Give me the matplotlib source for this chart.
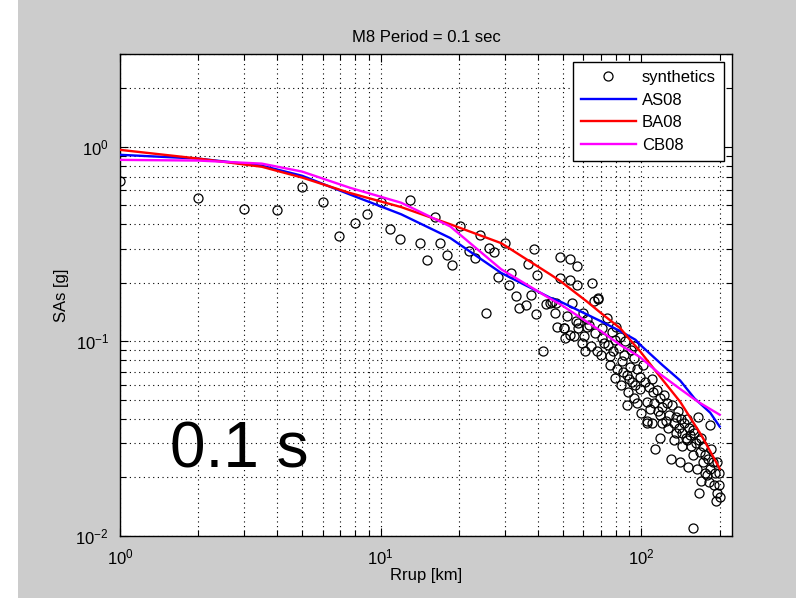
import matplotlib
matplotlib.use("Agg")
import matplotlib.pyplot as plt
from matplotlib.lines import Line2D
from matplotlib.patches import Rectangle
from matplotlib.ticker import LogLocator, NullFormatter

plt.rcParams['font.family'] = ['Liberation Sans', 'DejaVu Sans']
plt.rcParams['mathtext.fontset'] = 'custom'
plt.rcParams['mathtext.rm'] = 'Liberation Sans'
plt.rcParams['mathtext.it'] = 'Liberation Sans'

# ---- data ----
syn_r = [1.0, 2.0, 3.0, 4.0, 5.0, 6.0, 6.95, 8.0, 8.9, 10.0, 10.9, 11.9, 13.0,
         14.1, 15.0, 16.1, 16.9, 18.0, 18.8, 20.2, 21.9, 23.0, 24.0, 25.3, 26.1, 27.2, 28.1,
         30.0, 31.1, 31.6, 33.0, 33.9, 36.0, 36.8, 37.9, 38.8, 39.6, 39.9, 41.8, 43.0, 44.5,
         45.5, 47.0, 46.7, 47.7, 48.6, 50.4, 51.2, 52.0, 53.5, 54.3, 55.0, 56.6, 57.4, 60.1,
         61.0, 62.0, 63.0, 65.7, 66.5, 67.5, 68.5, 53.4, 50.5, 57.4, 70.5, 73.6, 74.7, 78.0,
         79.0, 84.2, 85.4, 79.0, 88.0, 90.7, 92.0, 96.3, 101.9, 89.3, 93.5, 98.8, 104.9, 111.0,
         115.0, 117.7, 126.0, 131.0, 136.0, 150.0, 118.0, 108.0, 88.0, 96.3, 104.9, 113.0,
         117.7, 130.0, 125.0, 136.5, 144.0, 150.7, 158.0, 165.0, 170.0, 184.0, 179.0, 190.0,
         198.0, 193.0, 200.0, 158.0, 144.0, 154.0, 167.0, 173.0, 184.0, 167.0, 195.0, 164.0,
         141.0, 105.0, 72.0, 76.0, 82.0, 86.0, 94.0, 99.0, 103.0, 107.0, 110.0, 112.0, 120.0,
         122.0, 128.0, 133.0, 138.0, 140.0, 146.0, 148.0, 152.0, 155.0, 160.0, 162.0, 168.0,
         172.0, 176.0, 180.0, 186.0, 188.0, 192.0, 196.0, 199.0, 175.0, 182.0, 170.0, 158.0,
         150.0, 142.0, 134.0, 127.0, 120.0, 116.0, 110.0, 100.0, 95.0, 90.0, 84.0, 81.0, 76.0,
         70.0, 64.0, 59.0, 56.0, 60.0, 62.0, 71.0, 77.0, 80.0, 83.0, 87.0, 91.0, 94.0, 48.6,
         53.5, 56.5, 68.0, 64.6]
syn_sa = [0.668, 0.548, 0.477, 0.472, 0.624, 0.523, 0.348, 0.404, 0.45, 0.52, 0.377, 0.338, 0.53,
          0.321, 0.263, 0.437, 0.321, 0.277, 0.246, 0.392, 0.293, 0.267, 0.352, 0.140, 0.303, 0.289, 0.215,
          0.321, 0.194, 0.225, 0.172, 0.148, 0.153, 0.250, 0.173, 0.297, 0.139, 0.219, 0.089, 0.155, 0.157,
          0.160, 0.158, 0.140, 0.118, 0.211, 0.117, 0.104, 0.135, 0.208, 0.158, 0.107, 0.194, 0.117, 0.107,
          0.089, 0.118, 0.122, 0.161, 0.110, 0.089, 0.167, 0.108, 0.117, 0.124, 0.104, 0.132, 0.096, 0.089,
          0.102, 0.079, 0.070, 0.065, 0.067, 0.074, 0.062, 0.072, 0.076, 0.055, 0.051, 0.057, 0.049, 0.055,
          0.056, 0.051, 0.048, 0.047, 0.041, 0.040, 0.042, 0.045, 0.047, 0.048, 0.039, 0.028,
          0.032, 0.025, 0.039, 0.034, 0.029, 0.0226, 0.026, 0.041, 0.0192, 0.0372, 0.0205, 0.0183,
          0.0183, 0.0152, 0.0159, 0.011, 0.034, 0.033, 0.031, 0.024, 0.022, 0.0167, 0.0167, 0.022,
          0.024, 0.038, 0.098, 0.084, 0.092, 0.085, 0.082, 0.066, 0.062, 0.058, 0.064, 0.048, 0.046,
          0.053, 0.042, 0.038, 0.044, 0.036, 0.038, 0.032, 0.036, 0.029, 0.034, 0.030, 0.027,
          0.029, 0.026, 0.025, 0.028, 0.024, 0.021, 0.024, 0.021, 0.021, 0.019, 0.032, 0.035,
          0.031, 0.040, 0.031, 0.036, 0.038, 0.044, 0.038, 0.043, 0.060, 0.064, 0.060, 0.072, 0.076,
          0.085, 0.095, 0.098, 0.128, 0.140, 0.130, 0.117, 0.112, 0.118, 0.105, 0.100, 0.090, 0.095, 0.27,
          0.265, 0.245, 0.165, 0.20]

as08_r = [1, 2, 3.5, 5, 7.6, 12, 18.5, 29, 45, 49, 70, 83, 95, 100, 120, 141, 160, 184, 200]
as08_sa = [0.91, 0.87, 0.80, 0.71, 0.57, 0.45, 0.34, 0.225, 0.167, 0.16, 0.127, 0.113, 0.102,
           0.095, 0.076, 0.063, 0.051, 0.043, 0.0365]

ba08_r = [1, 2, 3.5, 5, 7.6, 12, 18.5, 29, 45, 49, 62, 70, 83, 90, 99, 118, 141, 170, 200]
ba08_sa = [0.965, 0.87, 0.79, 0.695, 0.58, 0.49, 0.40, 0.32, 0.22, 0.204, 0.16, 0.14, 0.117,
           0.103, 0.089, 0.066, 0.049, 0.033, 0.0222]

cb08_r = [1, 2, 3.5, 5, 7.6, 12, 18.5, 29, 45, 49, 70, 83, 99, 118, 141, 165, 200]
cb08_sa = [0.857, 0.85, 0.82, 0.746, 0.617, 0.516, 0.39, 0.235, 0.165, 0.155, 0.113, 0.096,
           0.083, 0.068, 0.057, 0.049, 0.042]

# ---- figure ----
W, H = 796, 598
fig = plt.figure(figsize=(W / 100, H / 100), dpi=100, facecolor='#cccccc')
fig.patches.append(Rectangle((0, 0), 18 / W, 1, transform=fig.transFigure,
                             facecolor='white', edgecolor='none', zorder=-1))

ax = fig.add_axes([120 / W, 1 - 536 / H, (732 - 120) / W, (536 - 54) / H])
ax.set_facecolor('white')
ax.set_xscale('log')
ax.set_yscale('log')

ax.plot(syn_r, syn_sa, linestyle='none', marker='o', markersize=6.5,
        markerfacecolor='none', markeredgecolor='black', markeredgewidth=0.9, zorder=3)
ax.plot(as08_r, as08_sa, color='#0000ff', lw=1.7, zorder=4)
ax.plot(ba08_r, ba08_sa, color='#ff0000', lw=1.7, zorder=4)
ax.plot(cb08_r, cb08_sa, color='#ff00ff', lw=1.7, zorder=4)

ax.set_xlim(1, 223)
ax.set_ylim(0.01, 3)

ax.xaxis.set_major_locator(LogLocator(base=10, numticks=10))
ax.xaxis.set_minor_locator(LogLocator(base=10, subs=range(2, 10), numticks=20))
ax.yaxis.set_major_locator(LogLocator(base=10, numticks=10))
ax.yaxis.set_minor_locator(LogLocator(base=10, subs=range(2, 10), numticks=20))
ax.xaxis.set_minor_formatter(NullFormatter())
ax.yaxis.set_minor_formatter(NullFormatter())

ax.grid(True, which='both', color='black', linestyle=(0, (1, 3.2)), linewidth=0.8)
ax.set_axisbelow(True)
ax.tick_params(which='both', direction='in', top=True, right=True, labelsize=12,
               width=0.8, colors='black')
ax.tick_params(which='major', length=6, pad=8)
ax.tick_params(which='minor', length=4)
for s in ax.spines.values():
    s.set_linewidth(1.0)

ax.set_title('M8 Period = 0.1 sec', fontsize=12, pad=9)
ax.set_xlabel('Rrup [km]', fontsize=12, labelpad=1)
ax.set_ylabel('SAs [g]', fontsize=12, labelpad=5)

ax.text(1.555, 0.0226, '0.1 s', fontsize=46, ha='left', va='baseline',
        family=['Liberation Sans', 'DejaVu Sans'], zorder=6)

handles = [
    Line2D([], [], linestyle='none', marker='o', markersize=6.5, markerfacecolor='none',
           markeredgecolor='black', markeredgewidth=0.9),
    Line2D([], [], color='#0000ff', lw=1.7),
    Line2D([], [], color='#ff0000', lw=1.7),
    Line2D([], [], color='#ff00ff', lw=1.7),
]
leg = ax.legend(handles, ['synthetics', 'AS08', 'BA08', 'CB08'], loc='upper right',
                bbox_to_anchor=(724 / W, 1 - 62 / H), bbox_transform=fig.transFigure,
                fontsize=12, fancybox=False, framealpha=1, edgecolor='black',
                handlelength=3.3, handletextpad=0.35, borderpad=0.5, labelspacing=0.45,
                borderaxespad=0)
leg.get_frame().set_linewidth(1.0)
leg.set_zorder(10)

fig.savefig('out.png', dpi=100, facecolor=fig.get_facecolor())
